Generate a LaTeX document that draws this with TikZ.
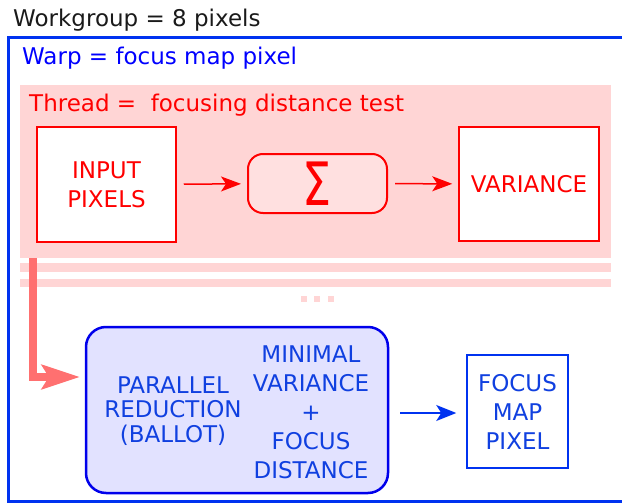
\documentclass[tikz,border=0pt]{standalone}
\usepackage{fontspec}
\usepackage{graphicx}
\setmainfont{DejaVu Sans}
\usetikzlibrary{arrows.meta}
\definecolor{pinkbg}{RGB}{255,213,213}
\definecolor{sigmafill}{RGB}{255,224,224}
\definecolor{salmon}{RGB}{255,112,112}
\definecolor{lavender}{RGB}{226,226,255}
\definecolor{frameblue}{RGB}{0,50,240}
\definecolor{boxblue}{RGB}{0,0,235}
\definecolor{textblue}{RGB}{16,64,224}
\definecolor{darktext}{RGB}{26,26,26}
\tikzset{
  lbl/.style={font=\fontsize{23}{29}\selectfont, inner sep=0pt},
  redbox/.style={draw=red, line width=1.5pt, fill=white, lbl, text=red, align=center},
  sigmabox/.style={draw=red, line width=2pt, fill=sigmafill, rounded corners=15pt, text=red},
  bluebox/.style={draw=boxblue, line width=2.5pt, fill=lavender, rounded corners=20pt},
  focusbox/.style={draw=frameblue, line width=1.5pt, fill=white, lbl, text=textblue, align=center},
  redarrow/.style={draw=red, line width=1.5pt, -{Stealth[length=20pt,width=15pt,inset=5pt]}},
  bluearrow/.style={draw=frameblue, line width=1.5pt, -{Stealth[length=20pt,width=16pt,inset=5pt]}},
  bigarrow/.style={draw=salmon, line width=8pt, -{Stealth[length=38pt,width=24pt,inset=7pt]}},
}
\begin{document}
\begin{tikzpicture}[x=1pt,y=-1pt]
\useasboundingbox (0,0) rectangle (622,503);
% outer titles and frame
\node[lbl, text=darktext, anchor=base west] (wg) at (13,27) {Workgroup = 8 pixels};
\draw[frameblue, line width=3pt] (8,38) rectangle (660,501.5);
\node[lbl, text=blue, anchor=base west] (warp) at (22,65) {Warp = focus map pixel};
% thread background
\node[fill=pinkbg, minimum width=591pt, minimum height=173pt, inner sep=0pt] (threadbg) at (315.5,171.5) {};
\fill[pinkbg] (20,263) rectangle (611,272);
\fill[pinkbg] (20,279) rectangle (611,287);
\fill[pinkbg] (301,296) rectangle (307,302);
\fill[pinkbg] (314,296) rectangle (320,302);
\fill[pinkbg] (328,296) rectangle (334,302);
\node[lbl, text=red, anchor=base west] (thread) at (29,111) {Thread =\ \ focusing distance test};
% thread boxes
\node[redbox, minimum width=139pt, minimum height=115pt] (input) at (106.5,184.5) {INPUT\\PIXELS};
\node[sigmabox, minimum width=139pt, minimum height=59pt, inner sep=0pt] (sigma) at (317.5,183.5) {\fontsize{46}{46}\selectfont\raisebox{-2pt}{\scalebox{1}[1.3]{Σ}}};
\node[redbox, minimum width=140pt, minimum height=114pt] (variance) at (529,184) {VARIANCE};
\draw[redarrow, shorten <=7pt, shorten >=6pt] (input) -- (sigma);
\draw[redarrow, shorten <=7pt, shorten >=6pt] (sigma) -- (variance);
% reduction
\node[bluebox, minimum width=302pt, minimum height=166pt] (reduce) at (237,410) {};
\node[lbl, text=textblue, align=center, font=\fontsize{23}{24.5}\selectfont] (par) at (173,411) {PARALLEL\\REDUCTION\\(BALLOT)};
\node[lbl, text=textblue, align=center] (minv) at (311,412) {MINIMAL\\VARIANCE\\+\\FOCUS\\DISTANCE};
\node[focusbox, minimum width=101pt, minimum height=113pt] (focus) at (517.5,411.5) {FOCUS\\MAP\\PIXEL};
\draw[bluearrow, shorten <=11pt, shorten >=10pt] (reduce.east |- 0,413) -- (focus.west |- 0,413);
% big arrow
\coordinate (bs) at (threadbg.south west -| 33,0);
\coordinate (be) at (80,377);
\draw[bigarrow] (bs) |- (be);
\end{tikzpicture}
\end{document}
